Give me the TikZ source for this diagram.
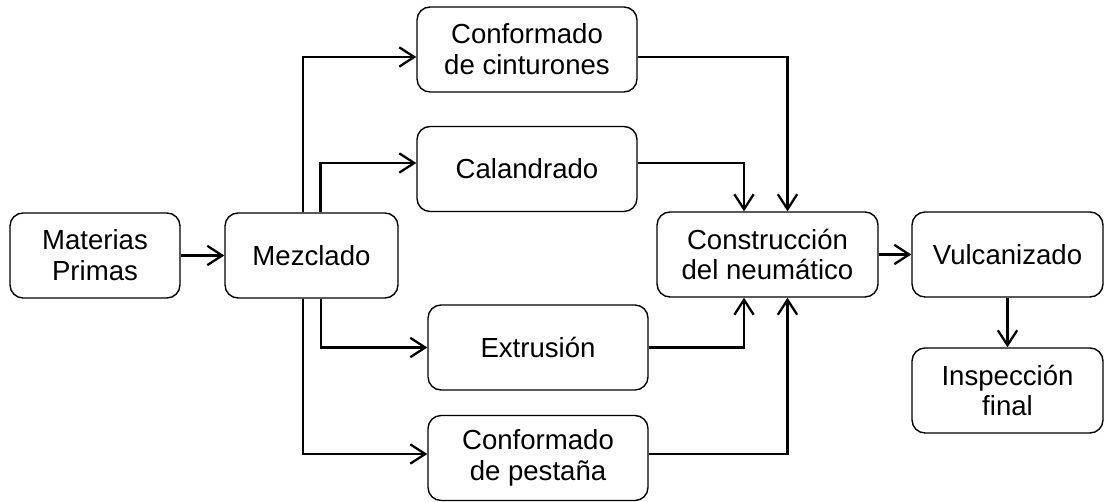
\documentclass[tikz,border=0pt]{standalone}
\usepackage{fontspec}
\setmainfont{Liberation Sans}
\usetikzlibrary{arrows.meta}
\tikzset{
>={Straight Barb[length=8.5pt,width=11pt]},
every node/.style={font=\fontsize{15.7}{17.5}\selectfont}, % text size of all boxes
proc/.style={draw, line width=0.8pt, rounded corners=0.26cm, align=center, inner sep=0pt, minimum height=1.7cm}, % process box
flow/.style={->, line width=1.3pt}, % connector between boxes
}

\begin{document}
\begin{tikzpicture}[x=0.02cm, y=-0.02cm]
\useasboundingbox (0,0) rectangle (1105,502);
\node[proc, minimum width=3.4cm] at (95, 255.5) (MP) {Materias\\Primas};
\node[proc, minimum width=3.46cm] at (311.5, 255.5) (MEZ) {Mezclado};
\node[proc, minimum width=4.4cm] at (527, 49.5) (CIN) {Conformado\\de cinturones};
\node[proc, minimum width=4.4cm] at (527, 169) (CAL) {Calandrado};
\node[proc, minimum width=4.4cm] at (538, 347.5) (EXT) {Extrusión};
\node[proc, minimum width=4.4cm] at (538, 458) (PES) {Conformado\\de pestaña};
\node[proc, minimum width=4.42cm] at (767.5, 254.5) (CON) {Construcción\\del neumático};
\node[proc, minimum width=3.82cm] at (1007.5, 254.5) (VUL) {Vulcanizado};
\node[proc, minimum width=3.82cm] at (1007.5, 390.5) (INS) {Inspección\\final};

\draw[flow] (MP) -- (MEZ);
\draw[flow] ([xshift=-0.17cm]MEZ.north) |- ([yshift=-0.15cm]CIN.west);
\draw[flow] ([xshift=0.18cm]MEZ.north) |- ([yshift=0.12cm]CAL.west);
\draw[flow] ([xshift=0.19cm]MEZ.south) |- (EXT.west);
\draw[flow] ([xshift=-0.17cm]MEZ.south) |- ([yshift=0.08cm]PES.west);
\draw[flow] ([yshift=-0.15cm]CIN.east) -| ([xshift=0.4cm]CON.north);
\draw[flow] ([yshift=0.12cm]CAL.east) -| ([xshift=-0.47cm]CON.north);
\draw[flow] (EXT.east) -| ([xshift=-0.47cm]CON.south);
\draw[flow] ([yshift=0.08cm]PES.east) -| ([xshift=0.4cm]CON.south);
\draw[flow] (CON) -- (VUL);
\draw[flow] (VUL) -- (INS);

\end{tikzpicture}
\end{document}
